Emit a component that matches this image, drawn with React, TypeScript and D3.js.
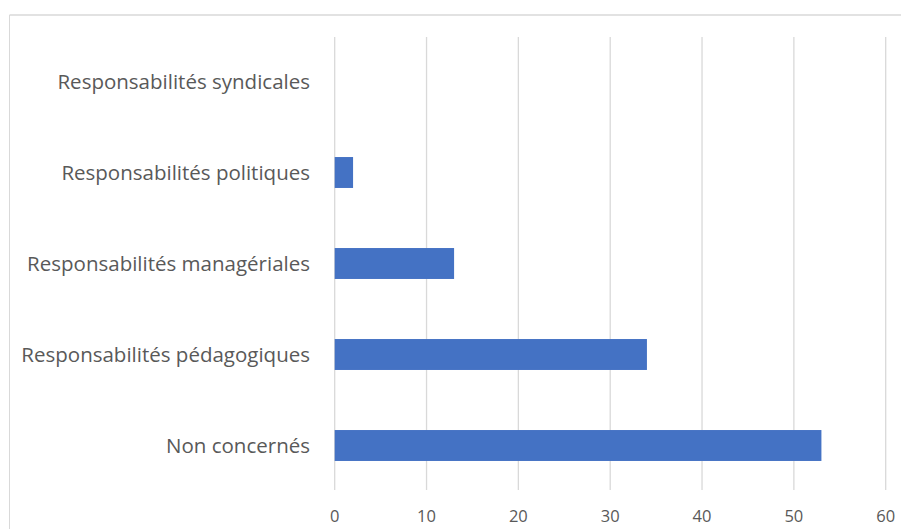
import React from "react";
import * as d3 from "d3";

const categories = [
  "Responsabilités syndicales",
  "Responsabilités politiques",
  "Responsabilités managériales",
  "Responsabilités pédagogiques",
  "Non concernés",
];
const values = [0, 2, 13, 34, 53];
const xTicks = [0, 10, 20, 30, 40, 50, 60];

const W = 901;
const H = 529;
const FONT = "'Open Sans', 'Noto Sans', sans-serif";
const TEXT = "#595959";

export default function App() {
  const x = d3.scaleLinear().domain([0, 60]).range([334.7, 885.7]);
  const y = d3
    .scaleBand<string>()
    .domain(categories)
    .range([36, 491])
    .paddingInner(0.66)
    .paddingOuter(0.33);

  return (
    <svg
      width={W}
      height={H}
      style={{ position: "fixed", left: 0, top: 0, background: "#fff" }}
    >
      <rect x={0} y={0} width={W} height={H} fill="#fff" />
      {/* frame */}
      <line x1={9.5} x2={W} y1={15} y2={15} stroke="#d9d9d9" strokeWidth={1.5} />
      <line x1={9.5} x2={9.5} y1={15} y2={H} stroke="#d9d9d9" strokeWidth={1} />
      {/* grid */}
      {xTicks.map((t) => (
        <line
          key={t}
          x1={x(t)}
          x2={x(t)}
          y1={37}
          y2={490}
          stroke="#d9d9d9"
          strokeWidth={1.3}
        />
      ))}
      {/* bars */}
      {categories.map((c, i) => (
        <rect
          key={c}
          x={x(0)}
          y={y(c)}
          width={x(values[i]) - x(0)}
          height={y.bandwidth()}
          fill="#4472C4"
        />
      ))}
      {/* category labels */}
      {categories.map((c) => (
        <text
          key={c}
          x={310}
          y={(y(c) ?? 0) + y.bandwidth() / 2}
          dy="0.35em"
          textAnchor="end"
          fontFamily={FONT}
          fontSize={20.5}
          fill={TEXT}
        >
          {c}
        </text>
      ))}
      {/* tick labels */}
      {xTicks.map((t) => (
        <text
          key={t}
          x={x(t)}
          y={516}
          dy="0.35em"
          textAnchor="middle"
          fontFamily={FONT}
          fontSize={16.5}
          fill={TEXT}
        >
          {t}
        </text>
      ))}
    </svg>
  );
}
